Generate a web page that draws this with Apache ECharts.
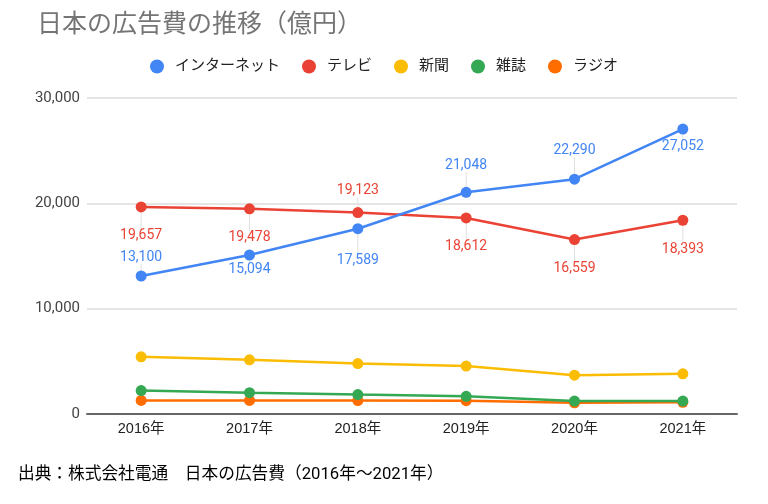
<!DOCTYPE html>
<html><head><meta charset="utf-8">
<script src="https://cdn.jsdelivr.net/npm/echarts@6/dist/echarts.min.js"></script>
<style>html,body{margin:0;padding:0;background:#fff;}#c{width:768px;height:504px;}</style>
</head><body><div id="c"></div>
<script>
const categories = ['2016年','2017年','2018年','2019年','2020年','2021年'];
const seriesNames = ['インターネット','テレビ','新聞','雑誌','ラジオ'];
const internet = [13100, 15094, 17589, 21048, 22290, 27052];
const tv = [19657, 19478, 19123, 18612, 16559, 18393];
const newspaper = [5431, 5147, 4784, 4547, 3688, 3815];
const magazine = [2223, 2023, 1841, 1675, 1223, 1224];
const radio = [1285, 1290, 1278, 1260, 1066, 1106];
const yTicks = [0, 10000, 20000, 30000];

// label vertical offsets (px) relative to point, style only
const labelOffsets = {
  0: [-19, 14, 32, -27, -29, 17],
  1: [29, 29, -22, 29, 29, 29]
};
const colors = ['#4285F4', '#EA4335', '#FBBC04', '#34A853', '#FF6D01'];
const FONT = 'Roboto, "Noto Sans CJK JP", sans-serif';
const AFONT = '"Liberation Sans", Arial, "Noto Sans CJK JP", sans-serif';

const values = [internet, tv, newspaper, magazine, radio];
const chart = echarts.init(document.getElementById('c'));
const series = values.map((v, i) => {
  const s = {
    name: seriesNames[i], type: 'line', data: v,
    symbol: 'circle', symbolSize: 11,
    lineStyle: { width: 2.5, color: colors[i] },
    itemStyle: { color: colors[i] },
    z: 10 - i
  };
  if (labelOffsets[i]) {
    s.label = {
      show: true, position: 'inside', color: colors[i], fontSize: 14, fontFamily: FONT,
      formatter: p => p.value.toLocaleString('en-US')
    };
    s.labelLayout = p => ({
      x: p.rect.x + p.rect.width / 2,
      y: p.rect.y + p.rect.height / 2 + labelOffsets[i][p.dataIndex],
      align: 'center', verticalAlign: 'middle'
    });
    s.labelLine = { show: true, lineStyle: { color: '#e0e0e0', width: 1 }, length2: 0 };
  }
  return s;
});

chart.setOption({
  animation: false,
  color: colors,
  title: [{
    text: '日本の広告費の推移（億円）', left: 37, top: 13, padding: 0,
    textStyle: { color: '#757575', fontSize: 25, fontWeight: 'normal', fontFamily: FONT }
  }, {
    text: '出典：株式会社電通　日本の広告費（2016年～2021年）', left: 18, top: 466, padding: 0,
    textStyle: { color: '#000', fontSize: 16.7, fontWeight: 'normal', fontFamily: FONT }
  }],
  legend: {
    top: 59, left: 'center', icon: 'circle', itemWidth: 14, itemHeight: 14, itemGap: 22,
    padding: 0,
    textStyle: { color: '#222', fontSize: 15, fontFamily: FONT, padding: [0, 0, 0, 6] },
    data: seriesNames
  },
  grid: { left: 87, right: 31, top: 98, bottom: 90, containLabel: false },
  xAxis: {
    type: 'category', data: categories, boundaryGap: true,
    axisLine: { lineStyle: { color: '#666', width: 2 } },
    axisTick: { show: false },
    axisLabel: { color: '#222', fontSize: 14.5, fontFamily: AFONT, margin: 8 }
  },
  yAxis: {
    type: 'value', min: yTicks[0], max: yTicks[yTicks.length - 1], interval: 10000,
    axisLine: { show: false }, axisTick: { show: false },
    axisLabel: { color: '#444', fontSize: 15, fontFamily: FONT, margin: 7,
      formatter: v => v.toLocaleString('en-US') },
    splitLine: { lineStyle: { color: '#dddddd', width: 1.5 } }
  },
  series: series
});
</script></body></html>
